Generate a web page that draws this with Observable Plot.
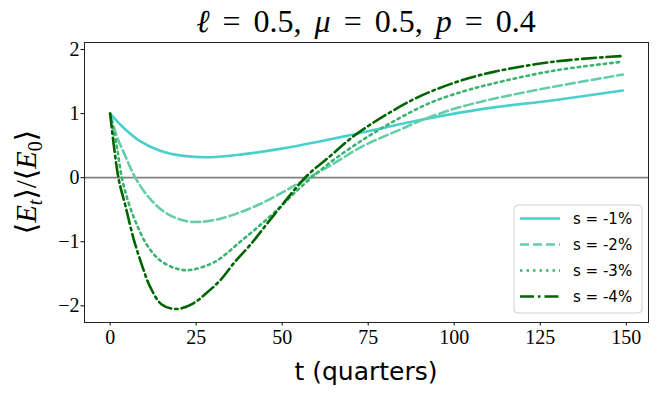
<!DOCTYPE html>
<html><head><meta charset="utf-8">
<script src="https://cdn.jsdelivr.net/npm/d3@7"></script>
<script src="https://cdn.jsdelivr.net/npm/@observablehq/plot@0.6"></script>
<style>body{margin:0;background:#fff;} #chart{width:664px;height:399px;}</style>
</head><body><div id="chart"></div>
<script>
// s = -1%
const t1 = [0, 3.9, 8.7, 14.5, 21.3, 29, 37.8, 49.4, 64, 70.3, 87.3, 98, 110.5, 128.9, 149];
const v1 = [1.0, 0.78, 0.57, 0.42, 0.34, 0.32, 0.36, 0.45, 0.60, 0.67, 0.87, 0.98, 1.09, 1.21, 1.36];
// s = -2%
const t2 = [0, 1.9, 4.4, 7.3, 11.6, 16.5, 22.3, 26.2, 32, 37.8, 43.6, 49.4, 56, 64, 73.7, 83.4, 91.2, 100.9, 110.5, 128.9, 149];
const v2 = [1.0, 0.65, 0.34, 0.0, -0.33, -0.56, -0.68, -0.69, -0.64, -0.54, -0.41, -0.25, -0.05, 0.19, 0.50, 0.73, 0.91, 1.09, 1.22, 1.42, 1.61];
// s = -3%
const t3 = [0, 1.9, 3.4, 5.3, 7.8, 10.7, 14.5, 19.4, 23.3, 29, 32, 37.8, 43.6, 49.4, 54.3, 58.1, 64, 73.7, 83.4, 93.1, 102.8, 110.5, 128.9, 149];
const v3 = [1.0, 0.5, 0.0, -0.38, -0.74, -1.05, -1.29, -1.42, -1.44, -1.35, -1.26, -1.0, -0.74, -0.46, -0.2, -0.02, 0.24, 0.60, 0.91, 1.17, 1.35, 1.46, 1.67, 1.81];
// s = -4%
const t4 = [0, 2.4, 4.4, 6.8, 9.2, 11.6, 15, 19.4, 24.2, 28, 32, 36.3, 40.7, 46, 51.4, 57.2, 64, 70.8, 79.5, 89.2, 99.9, 110.5, 128.9, 149];
const v4 = [1.0, 0.0, -0.43, -0.95, -1.36, -1.70, -1.98, -2.05, -1.96, -1.80, -1.60, -1.31, -1.05, -0.69, -0.33, 0.03, 0.34, 0.65, 0.96, 1.25, 1.48, 1.64, 1.81, 1.90];

const seriesLabels = ["s = -1%", "s = -2%", "s = -3%", "s = -4%"];
const colors = ["#48d1cc", "#66cdaa", "#3cb371", "#006400"];
const dashes = [null, "9,4", "2.5,4", "14,4,2.5,4"];
const xTicks = [0, 25, 50, 75, 100, 125, 150];
const yTicks = [-2, -1, 0, 1, 2];

const series = [[t1, v1], [t2, v2], [t3, v3], [t4, v4]];
const rows = series.flatMap(([ts, vs], k) => ts.map((t, j) => ({t, v: vs[j], k})));

const W = 664, H = 399, mL = 84, mR = 16, mT = 42, mB = 77;
const LW = 2.6;

const plot = Plot.plot({
  width: W, height: H,
  marginLeft: mL, marginRight: mR, marginTop: mT, marginBottom: mB,
  x: {domain: [-7.45, 156.45]},
  y: {domain: [-2.26, 2.11]},
  style: {background: "#fff", color: "#000"},
  marks: [
    Plot.ruleY([0], {stroke: "#808080", strokeWidth: 1.8}),
    ...series.map((s, k) => Plot.line(rows.filter(d => d.k === k), {
      x: "t", y: "v", stroke: colors[k], strokeWidth: LW,
      strokeDasharray: dashes[k], curve: "catmull-rom"
    })),
    Plot.frame({stroke: "#222", strokeWidth: 1}),
    Plot.axisX({ticks: xTicks, tickSize: 3.5, tickPadding: 4, fontSize: 20,
      fontFamily: "Liberation Serif", label: null, tickFormat: d => String(d)}),
    Plot.axisY({ticks: yTicks, tickSize: 3.5, tickPadding: 1.5, fontSize: 20,
      fontFamily: "Liberation Serif", label: null,
      tickFormat: d => d < 0 ? "\u2212" + Math.abs(d) : String(d)})
  ]
});
document.getElementById("chart").appendChild(plot);

const svg = d3.select(plot);
const cx = mL + (W - mL - mR) / 2;

// title
const title = svg.append("text").attr("x", cx).attr("y", 32).attr("text-anchor", "middle")
  .style("font-family", "'Liberation Serif', 'DejaVu Serif', serif").style("font-size", "32px")
  .style("word-spacing", "5px").style("fill", "#000");
[["\u2113", true], [" = 0.5, ", false], ["\u03bc", true], [" = 0.5, ", false], ["p", true], [" = 0.4", false]]
  .forEach(([s, it]) => title.append("tspan").style("font-style", it ? "italic" : "normal").text(s));

// x label
svg.append("text").attr("x", cx).attr("y", 380).attr("text-anchor", "middle")
  .style("font-family", "'DejaVu Sans', sans-serif").style("font-size", "25px").style("fill", "#000")
  .text("t (quarters)");

// y label
const yl = svg.append("text").attr("transform", `translate(36,${(mT + H - mB) / 2}) rotate(-90)`)
  .attr("text-anchor", "middle")
  .style("font-family", "'Liberation Serif', 'DejaVu Serif', serif").style("font-size", "29px").style("fill", "#000");
yl.append("tspan").text("\u27e8");
yl.append("tspan").style("font-style", "italic").text("E");
yl.append("tspan").style("font-style", "italic").style("font-size", "20px").attr("dy", "6").text("t");
yl.append("tspan").attr("dy", "-6").text("\u27e9/\u27e8");
yl.append("tspan").style("font-style", "italic").text("E");
yl.append("tspan").style("font-size", "20px").attr("dy", "6").text("0");
yl.append("tspan").attr("dy", "-6").text("\u27e9");

// legend
const lg = svg.append("g");
lg.append("rect").attr("x", 514).attr("y", 205).attr("width", 128).attr("height", 108).attr("rx", 4)
  .attr("fill", "#fff").attr("fill-opacity", 0.8).attr("stroke", "#d0d0d0");
seriesLabels.forEach((lab, k) => {
  const y = 218.5 + k * 26;
  lg.append("line").attr("x1", 520).attr("x2", 560).attr("y1", y).attr("y2", y)
    .attr("stroke", colors[k]).attr("stroke-width", LW).attr("stroke-dasharray", dashes[k]);
  lg.append("text").attr("x", 573).attr("y", y).attr("dy", "0.35em").attr("text-anchor", "start")
    .style("font-family", "'DejaVu Sans', sans-serif").style("font-size", "15px").style("fill", "#000").text(lab);
});
</script></body></html>
